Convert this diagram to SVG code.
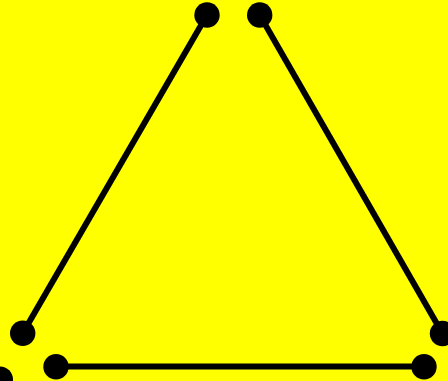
<svg xmlns="http://www.w3.org/2000/svg" width="448" height="381" viewBox="0 0 448 381">
<style>
.e{stroke:#000;stroke-width:6;fill:none}
.d{fill:#000}
</style>
<rect width="448" height="381" fill="#ffff00"/>
<g id="connectors">
<line class="e" x1="207" y1="15" x2="22.7" y2="333.3"/>
<line class="e" x1="259.7" y1="15" x2="442.5" y2="333.5"/>
<line class="e" x1="56" y1="366.5" x2="424" y2="366.5"/>
</g>
<g id="n1"><circle class="d" cx="207" cy="15" r="12.7"/></g>
<g id="n2"><circle class="d" cx="259.7" cy="15" r="12.7"/></g>
<g id="n3"><circle class="d" cx="22.7" cy="333.3" r="12.7"/></g>
<g id="n4"><circle class="d" cx="442.5" cy="333.5" r="12.7"/></g>
<g id="n5"><circle class="d" cx="56" cy="366.7" r="12.7"/></g>
<g id="n6"><circle class="d" cx="424" cy="366.7" r="12.7"/></g>
<g id="n7"><circle class="d" cx="0" cy="379.5" r="13"/></g>
</svg>
